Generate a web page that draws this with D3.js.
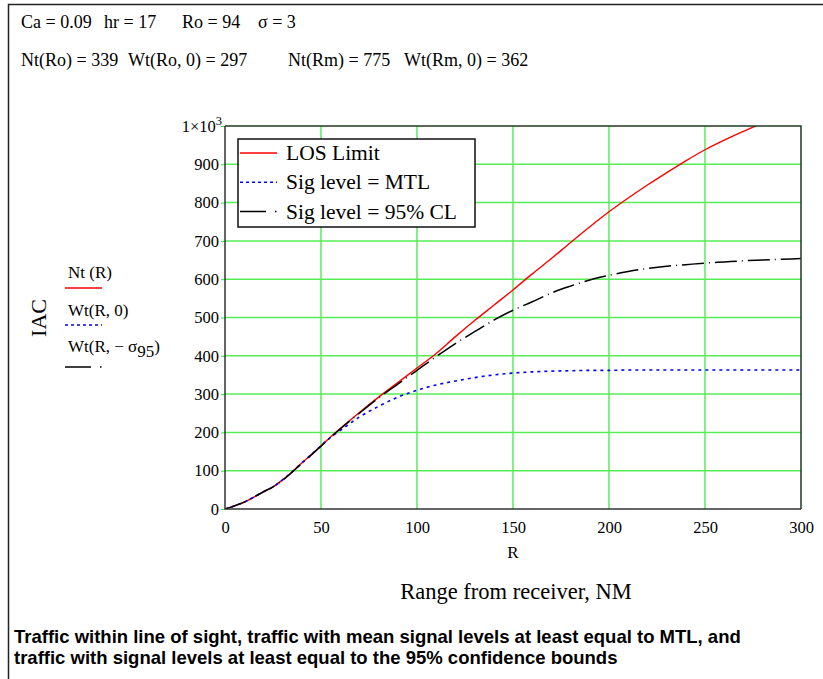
<!DOCTYPE html>
<html>
<head>
<meta charset="utf-8">
<script src="https://cdn.jsdelivr.net/npm/d3@7"></script>
<style>
  html, body { margin: 0; padding: 0; background: #fff; }
  svg { display: block; }
  .serif { font-family: "Liberation Serif", "Times New Roman", serif; fill: #000; }
  .sans { font-family: "Liberation Sans", Arial, sans-serif; fill: #000; }
</style>
</head>
<body>
<svg id="chart" width="823" height="679"></svg>
<script>
// Range from receiver (NM)
const rangeNM = [0, 10, 20, 25, 30, 40, 50, 55, 60, 70, 80, 90, 100, 110, 120, 130, 140, 150,
                 160, 170, 180, 190, 200, 210, 220, 230, 240, 250, 260, 270, 280, 290, 300];
// Nt(R): traffic within line of sight
const losLimit = [0, 18, 45, 58, 76, 120, 165, 188, 210, 252, 292, 330, 368, 406, 450, 492, 532, 572,
                  614, 654, 696, 737, 776, 812, 846, 878, 909, 938, 963, 986, 1008, 1029, 1049];
// Wt(R,0): mean signal level at least MTL
const sigMTL = [0, 18, 45, 58, 76, 120, 165, 187, 205, 240, 268, 292, 310, 324, 334, 343, 350, 355,
                358, 360, 361, 362, 362, 363, 363, 363, 363, 363, 363, 363, 363, 363, 363];
// Wt(R,-sigma95): signal level at least the 95% confidence bound
const sig95 = [0, 18, 45, 58, 75, 119, 164, 187, 209, 250, 290, 326, 362, 398, 432, 463, 493, 519,
               541, 564, 582, 598, 610, 620, 628, 634, 638, 642, 645, 648, 650, 652, 654];

const xTicks = [0, 50, 100, 150, 200, 250, 300];
const yTicks = [0, 100, 200, 300, 400, 500, 600, 700, 800, 900, 1000];

const paramLine1 = [["Ca = 0.09", 21], ["hr = 17", 104], ["Ro = 94", 182], ["σ = 3", 258]];
const paramLine2 = [["Nt(Ro) = 339", 21], ["Wt(Ro, 0) = 297", 128], ["Nt(Rm) = 775", 288], ["Wt(Rm, 0) = 362", 404]];

const captionLines = [
  "Traffic within line of sight, traffic with mean signal levels at least equal to MTL, and",
  "traffic with signal levels at least equal to the 95% confidence bounds"
];

const series = [
  { name: "LOS Limit", values: losLimit, color: "#ff0000", dash: null, legendDash: null, width: 1.4 },
  { name: "Sig level = MTL", values: sigMTL, color: "#0000ff", dash: "3,4", legendDash: "3,3", width: 1.6 },
  { name: "Sig level = 95% CL", values: sig95, color: "#000000", dash: "22,5,1,5", legendDash: "26,9,1.5,6", width: 1.5 }
];

const svg = d3.select("#chart");

// outer frame (top and left rules)
svg.append("path").attr("d", "M8.5,679 V4.5 H823").attr("fill", "none")
  .attr("stroke", "#222").attr("stroke-width", 1.5);

// parameter lines
svg.selectAll("text.p1").data(paramLine1).join("text")
  .attr("class", "serif").attr("x", d => d[1]).attr("y", 28)
  .attr("font-size", 18).text(d => d[0]);
svg.selectAll("text.p2").data(paramLine2).join("text")
  .attr("class", "serif").attr("x", d => d[1]).attr("y", 66)
  .attr("font-size", 18).text(d => d[0]);

const x = d3.scaleLinear().domain([0, 300]).range([225, 801]);
const y = d3.scaleLinear().domain([0, 1000]).range([509, 126]);

// grid
const grid = svg.append("g");
grid.selectAll("line.v").data(xTicks.slice(1, -1)).join("line")
  .attr("x1", d => x(d)).attr("x2", d => x(d)).attr("y1", y(1000)).attr("y2", y(0))
  .attr("stroke", "#33e633").attr("stroke-width", 1.2);
grid.selectAll("line.h").data(yTicks.slice(1, -1)).join("line")
  .attr("x1", x(0)).attr("x2", x(300)).attr("y1", d => y(d)).attr("y2", d => y(d))
  .attr("stroke", "#55ee55").attr("stroke-width", 1.5);

// y axis
const yAxis = d3.axisLeft(y).tickValues(yTicks).tickSize(4).tickPadding(2)
  .tickFormat(d => d === 1000 ? "" : d);
const gy = svg.append("g").attr("transform", `translate(${x(0)},0)`).call(yAxis);
gy.select(".domain").remove();
gy.selectAll(".tick line").attr("stroke", "#33e633");
gy.selectAll(".tick text").attr("font-size", 16.5)
  .attr("font-family", "Liberation Serif").attr("fill", "#000");
// 1×10³ label at top
const topLab = svg.append("text").attr("class", "serif").attr("font-size", 16.5)
  .attr("x", x(0) - 3).attr("y", y(1000) + 6).attr("text-anchor", "end");
topLab.append("tspan").text("1×10");
topLab.append("tspan").attr("dy", -7).attr("font-size", 12.5).text("3");

// x axis
const xAxis = d3.axisBottom(x).tickValues(xTicks).tickSize(0).tickPadding(12);
const gx = svg.append("g").attr("transform", `translate(0,${y(0)})`).call(xAxis);
gx.select(".domain").remove();
gx.selectAll(".tick text").attr("font-size", 16.5).attr("font-family", "Liberation Serif").attr("fill", "#000");

// curves
svg.append("clipPath").attr("id", "plotClip").append("rect")
  .attr("x", x(0)).attr("y", y(1000)).attr("width", x(300) - x(0)).attr("height", y(0) - y(1000));
const line = d3.line().x((d, i) => x(rangeNM[i])).y(d => y(d)).curve(d3.curveMonotoneX);
const curves = svg.append("g").attr("clip-path", "url(#plotClip)");
curves.selectAll("path").data(series).join("path")
  .attr("d", d => line(d.values)).attr("fill", "none")
  .attr("stroke", d => d.color).attr("stroke-width", d => d.width)
  .attr("stroke-dasharray", d => d.dash);

// plot frame
svg.append("path").attr("d", `M${x(0)},${y(1000)} V${y(0)} H${x(300)}`)
  .attr("fill", "none").attr("stroke", "#333").attr("stroke-width", 1.5);
svg.append("path").attr("d", `M${x(0)},${y(1000)} H${x(300)} V${y(0)}`)
  .attr("fill", "none").attr("stroke", "#1f3a1f").attr("stroke-width", 1.5);

// legend box
const lg = svg.append("g");
lg.append("rect").attr("x", 238).attr("y", 139).attr("width", 237).attr("height", 88)
  .attr("fill", "#fff").attr("stroke", "#111").attr("stroke-width", 1.5);
const lgRows = lg.selectAll("g.row").data(series).join("g")
  .attr("transform", (d, i) => `translate(0,${153 + i * 29.3})`);
lgRows.append("line").attr("x1", 240).attr("x2", 277).attr("y1", 0).attr("y2", 0)
  .attr("stroke", d => d.color).attr("stroke-width", d => d.width)
  .attr("stroke-dasharray", d => d.legendDash);
lgRows.append("text").attr("class", "serif").attr("x", 286).attr("y", 7)
  .attr("font-size", 21.5).text(d => d.name);

// y title and trace labels
svg.append("text").attr("class", "serif").attr("font-size", 22)
  .attr("transform", "translate(46,318) rotate(-90)").attr("text-anchor", "middle").text("IAC");

const traceLabels = [
  { parts: [["Nt (R)", 0]], base: 278, ly: 288, color: "#ff0000", dash: null },
  { parts: [["Wt(R, 0)", 0]], base: 316, ly: 325, color: "#0000ff", dash: "3,3" },
  { parts: [["Wt(R, − σ", 0], ["95", 1], [")", 0]], base: 352, ly: 367, color: "#000", dash: "26,9,1.5,6" }
];
traceLabels.forEach(t => {
  const tx = svg.append("text").attr("class", "serif").attr("font-size", 17)
    .attr("x", 68).attr("y", t.base);
  let shift = 0;
  t.parts.forEach(p => {
    const sp = tx.append("tspan").text(p[0]);
    if (p[1] && shift === 0) { sp.attr("dy", 5); shift = 5; }
    else if (!p[1] && shift) { sp.attr("dy", -shift); shift = 0; }
  });
  svg.append("line").attr("x1", 65).attr("x2", 102).attr("y1", t.ly).attr("y2", t.ly)
    .attr("stroke", t.color).attr("stroke-width", 1.5).attr("stroke-dasharray", t.dash);
});

// axis titles
svg.append("text").attr("class", "serif").attr("font-size", 17).attr("x", 513).attr("y", 558)
  .attr("text-anchor", "middle").text("R");
svg.append("text").attr("class", "serif").attr("font-size", 22.5).attr("x", 516).attr("y", 599)
  .attr("text-anchor", "middle").text("Range from receiver, NM");

// caption
svg.selectAll("text.cap").data(captionLines).join("text")
  .attr("class", "sans").attr("x", 14).attr("y", (d, i) => 643 + i * 21)
  .attr("font-size", 18.5).attr("font-weight", "bold").text(d => d);
</script>
</body>
</html>
